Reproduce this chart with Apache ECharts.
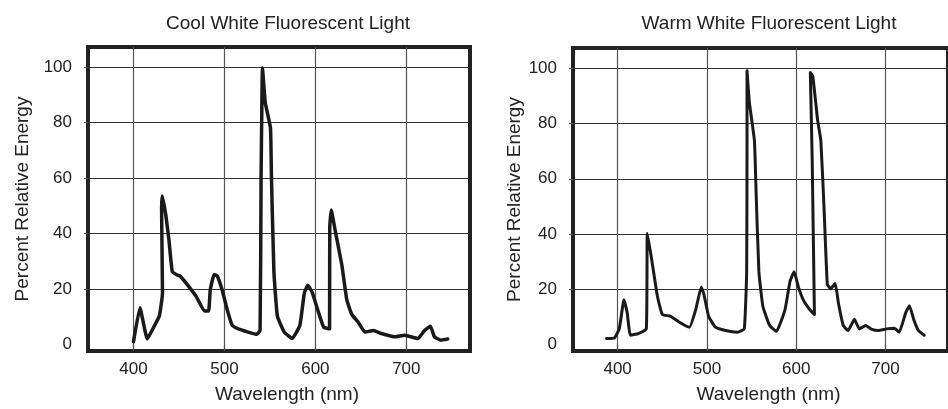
<!DOCTYPE html>
<html><head><meta charset="utf-8">
<script src="https://cdn.jsdelivr.net/npm/echarts@6/dist/echarts.min.js"></script>
<style>html,body{margin:0;padding:0;background:#fff}#c{width:948px;height:409px}</style>
</head><body><div id="c"></div>
<script>
const titles = ['Cool White Fluorescent Light', 'Warm White Fluorescent Light'];
const xAxisName = 'Wavelength (nm)';
const yAxisName = 'Percent Relative Energy';
const xTicks = [400, 500, 600, 700];
const yLabels = [0, 20, 40, 60, 80, 100];
const yGrid = [20, 40, 60, 80, 100];

const coolWavelength = [400, 407.1, 415.2, 421.3, 428.4, 431.9, 430.9, 431.6, 435.5, 439, 442.6, 447.9, 451.4, 458.5, 469.1, 478, 482.6, 484.4, 488.7, 492.2, 497.5, 503, 508.7, 520.2, 535.4, 539.2, 540.3, 541.1, 541.8, 544.9, 550.6, 551.7, 554.4, 558.2, 565.8, 574.5, 582.9, 587.8, 591.6, 596.2, 603.6, 609.1, 615.6, 615.8, 617.5, 621.8, 629.1, 634.5, 640, 647.3, 654.5, 663.6, 672.7, 687.3, 698.2, 712.7, 720, 726.5, 730.9, 738.2, 745.5];
const coolEnergy = [1.0, 13.3, 2.0, 5.7, 10.3, 18.5, 49.0, 53.6, 46.8, 37.7, 26.4, 25.1, 24.7, 21.9, 17.3, 12.1, 12.1, 19.7, 25.3, 24.7, 19.7, 12.7, 6.9, 5.1, 3.7, 5.1, 60.4, 84.6, 99.7, 87.2, 78.2, 60.4, 26.4, 10.3, 4.5, 2.2, 6.9, 18.5, 21.4, 19.1, 11.5, 6.3, 5.7, 42.3, 48.5, 41.1, 28.7, 16.2, 10.9, 8.0, 4.5, 5.1, 4.0, 2.8, 3.4, 2.2, 5.1, 6.6, 2.8, 1.6, 2.0];

const warmWavelength = [387.5, 396.4, 401.8, 407.1, 410.7, 414.3, 423.2, 432.1, 433.2, 437.5, 444.6, 450, 458.9, 469.6, 480.4, 487.5, 493.6, 496.4, 501.9, 509.5, 520.9, 534.2, 541.8, 544.5, 544.9, 544.9, 547.5, 553.2, 555.1, 558.2, 562.7, 570.3, 577.9, 587.5, 593.2, 597.7, 602.5, 607.9, 615.1, 620.4, 617.9, 615.8, 618.6, 624, 627.6, 631.2, 634.8, 638.4, 643.7, 647.3, 652.7, 658.1, 665.2, 670.6, 677.8, 684.9, 692.1, 701.1, 710, 715.4, 722.6, 726.9, 731.5, 736.9, 743.4];
const warmEnergy = [2.2, 2.4, 5.7, 16.2, 11.5, 3.4, 4.0, 5.7, 40.2, 32.1, 17.4, 10.9, 10.3, 8.0, 6.3, 12.7, 20.8, 18.5, 10.3, 6.3, 5.1, 4.5, 5.7, 26.4, 72.6, 99.1, 87.7, 73.8, 54.9, 26.4, 13.8, 6.9, 4.8, 12.7, 23.1, 26.4, 20.8, 16.2, 12.7, 10.9, 66.6, 98.4, 97.1, 81.1, 73.8, 49.1, 21.9, 20.2, 22.1, 15.0, 6.9, 5.1, 9.2, 5.7, 6.9, 5.5, 5.1, 5.7, 5.9, 4.5, 11.5, 14.1, 9.2, 5.1, 3.4];

const FONT = '"Liberation Sans", Arial, Helvetica, sans-serif';
const TXT = '#222';

function pairs(xs, ys) { return xs.map((x, i) => [x, ys[i]]); }

function xAxisCfg(gi) {
  return {
    type: 'value', gridIndex: gi, min: 350, max: 770,
    axisLine: { show: false },
    axisTick: { show: true, customValues: xTicks, length: 4, lineStyle: { color: '#555', width: 1.2 } },
    axisLabel: { customValues: xTicks, fontSize: 17, color: TXT, margin: 10, fontFamily: FONT },
    splitLine: { show: true, lineStyle: { color: '#555', width: 1.2 } },
    name: xAxisName, nameLocation: 'middle', nameGap: 34,
    nameTextStyle: { fontSize: 19, color: TXT, fontFamily: FONT, padding: [0, 0, 0, 16] }
  };
}
function yAxisCfg(gi, gap) {
  return {
    type: 'value', gridIndex: gi, min: -2.3, max: 107.3,
    axisLine: { show: false },
    axisTick: { show: true, customValues: yGrid, length: 4, lineStyle: { color: '#555', width: 1.2 } },
    axisLabel: { customValues: yLabels, fontSize: 17, color: TXT, margin: 16, fontFamily: FONT },
    splitLine: { show: true, lineStyle: { color: '#333', width: 1.2 } },
    name: yAxisName, nameLocation: 'middle', nameGap: gap,
    nameTextStyle: { fontSize: 19, color: TXT, fontFamily: FONT }
  };
}

const chart = echarts.init(document.getElementById('c'), null, { renderer: 'canvas' });
chart.setOption({
  backgroundColor: '#fff',
  animation: false,
  textStyle: { fontFamily: FONT },
  title: [
    { text: titles[0], left: 283, top: 9, textAlign: 'center', textStyle: { fontSize: 19, fontWeight: 'normal', color: TXT, fontFamily: FONT } },
    { text: titles[1], left: 764, top: 9, textAlign: 'center', textStyle: { fontSize: 19, fontWeight: 'normal', color: TXT, fontFamily: FONT } }
  ],
  grid: [
    { left: 88, right: 478, top: 47, bottom: 55, show: true, borderColor: '#222', borderWidth: 4, backgroundColor: 'transparent' },
    { left: 573, right: -8, top: 48, bottom: 54, show: true, borderColor: '#222', borderWidth: 4, backgroundColor: 'transparent' }
  ],
  xAxis: [xAxisCfg(0), xAxisCfg(1)],
  yAxis: [yAxisCfg(0, 56), yAxisCfg(1, 47)],
  series: [
    { type: 'line', xAxisIndex: 0, yAxisIndex: 0, data: pairs(coolWavelength, coolEnergy), symbol: 'none', smooth: 0.12, lineStyle: { color: '#1a1a1a', width: 3.5, join: 'round', cap: 'round' } },
    { type: 'line', xAxisIndex: 1, yAxisIndex: 1, data: pairs(warmWavelength, warmEnergy), symbol: 'none', smooth: 0.12, lineStyle: { color: '#1a1a1a', width: 3, join: 'round', cap: 'round' } }
  ]
});
</script>
</body></html>
